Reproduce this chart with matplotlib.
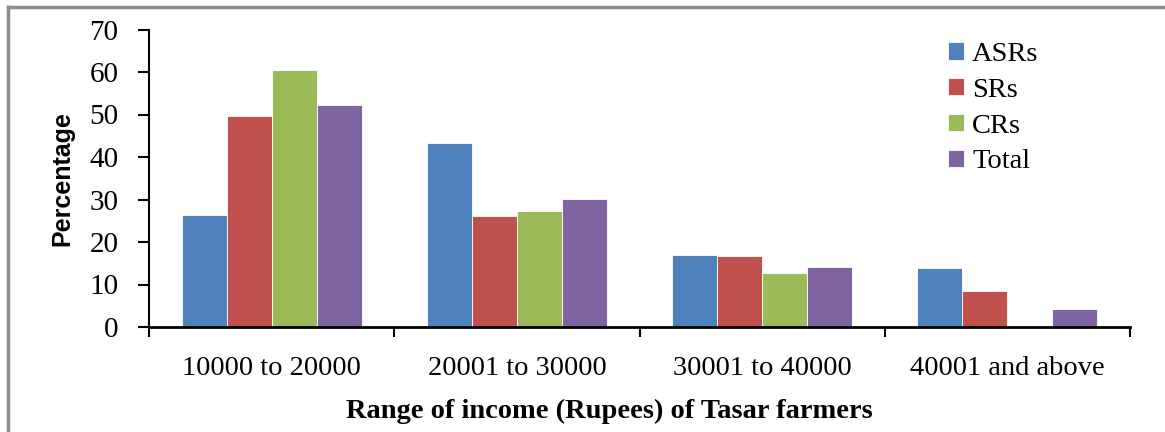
import matplotlib
matplotlib.use('Agg')
import matplotlib.pyplot as plt
import numpy as np

categories = ['10000 to 20000', '20001 to 30000', '30001 to 40000', '40001 and above']
series_names = ['ASRs', 'SRs', 'CRs', 'Total']
asrs  = [26.4, 43.3, 17.0, 13.9]
srs   = [49.6, 26.1, 16.6, 8.5]
crs   = [60.5, 27.3, 12.6, 0.0]
total = [52.2, 30.2, 14.2, 4.2]
colors = ['#4F81BD', '#C0504D', '#9BBB59', '#8064A2']

plt.rcParams['font.family'] = ['Liberation Serif', 'DejaVu Serif']

fig = plt.figure(figsize=(11.65, 4.32), dpi=100)
ax = fig.add_axes([149 / 1165, 105 / 432, (1130 - 149) / 1165, (327 - 29.5) / 432])

x = np.arange(len(categories))
w = 0.1837
for i, (vals, name) in enumerate(zip([asrs, srs, crs, total], series_names)):
    ax.bar(x + (i - 1.5) * w, vals, w, color=colors[i], label=name,
           edgecolor='white', linewidth=0.6)

ax.set_xlim(-0.5, len(categories) - 0.5)
ax.set_ylim(0, 70)
ax.set_yticks(range(0, 71, 10))
ax.set_xticks(np.arange(-0.5, len(categories), 1.0), minor=False)
ax.set_xticklabels([])
ax.set_xticks(x, minor=True)
ax.set_xticklabels(categories, minor=True, fontsize=20.5)
ax.tick_params(axis='x', which='minor', length=0, pad=21)
ax.tick_params(axis='x', which='major', direction='out', length=7, width=1.5)
ax.tick_params(axis='y', direction='out', length=8, width=1.5, labelsize=21, pad=14)

for s in ['top', 'right']:
    ax.spines[s].set_visible(False)
ax.spines['left'].set_linewidth(1.5)
ax.spines['bottom'].set_linewidth(2)

ax.set_ylabel('Percentage', family=['Liberation Sans Narrow', 'Liberation Sans', 'DejaVu Sans'],
              fontweight='bold', fontsize=18, labelpad=11)
fig.text(609 / 1165, 1 - 411 / 432, 'Range of income (Rupees) of Tasar farmers',
         ha='center', va='center', fontsize=20.5, fontweight='bold')

ax.legend(loc='upper left', bbox_to_anchor=(948 / 1165, 1 - 42 / 432),
          bbox_transform=fig.transFigure, frameon=False, fontsize=20.5,
          handlelength=0.55, handleheight=0.55, handletextpad=0.3,
          labelspacing=0.38, borderpad=0, borderaxespad=0)

# grey frame around chart area
fig.add_artist(plt.Line2D([8 / 1165, 8 / 1165], [0, 1 - 6.5 / 432], color='#8c8c8c',
                          lw=2.5, transform=fig.transFigure))
fig.add_artist(plt.Line2D([8 / 1165, 1], [1 - 6.5 / 432, 1 - 6.5 / 432], color='#8c8c8c',
                          lw=2.5, transform=fig.transFigure))

fig.savefig('out.png', dpi=100)
